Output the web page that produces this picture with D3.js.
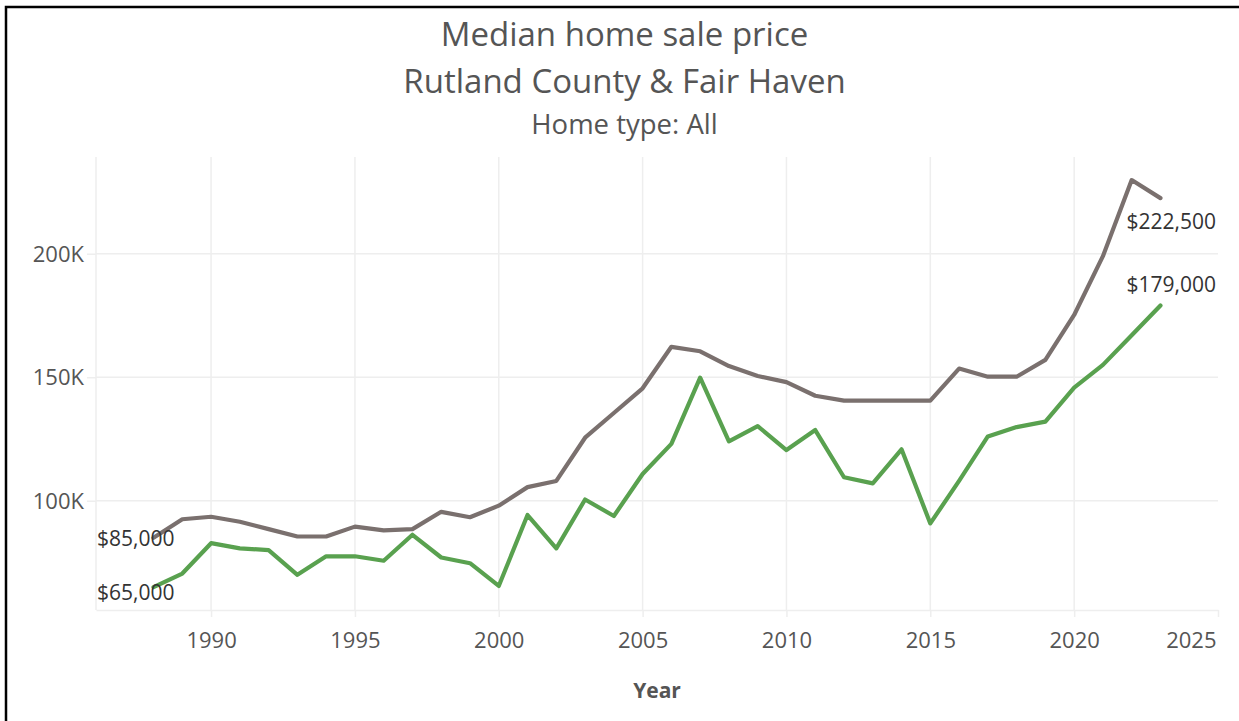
<!DOCTYPE html>
<html>
<head>
<meta charset="utf-8">
<script src="https://cdn.jsdelivr.net/npm/d3@7"></script>
<style>
  body { margin: 0; background: #fff; }
  svg { display: block; font-family: "Open Sans", sans-serif; }
</style>
</head>
<body>
<div id="chart"></div>
<script>
// data (values in dollars)
const years = d3.range(1988, 2024);
const rutland = [85000, 92500, 93500, 91500, 88500, 85500, 85500, 89500, 88000, 88500,
  95500, 93300, 98000, 105500, 108000, 125500, 135500, 145500, 162300, 160500,
  154500, 150500, 148000, 142500, 140500, 140500, 140500, 140500, 153500, 150200,
  150200, 157000, 175200, 199000, 229800, 222500];
const fairHaven = [65000, 70500, 82800, 80700, 80000, 70000, 77500, 77500, 75700, 86200,
  77000, 74700, 65500, 94200, 80700, 100500, 93800, 110800, 123000, 149800,
  124000, 130200, 120500, 128600, 109500, 107000, 120800, 90800, 108000, 126000,
  129800, 132000, 145800, 155000, 167000, 179000];
const xTicks = [1990, 1995, 2000, 2005, 2010, 2015, 2020, 2025];
const yTicks = [100000, 150000, 200000];
const titles = ["Median home sale price", "Rutland County & Fair Haven", "Home type: All"];

const W = 1239, H = 721;
const margin = {top: 157, right: 21, bottom: 111, left: 96};
const width = W - margin.left - margin.right;
const height = H - margin.top - margin.bottom;

const svgRoot = d3.select("#chart").append("svg")
    .attr("width", W)
    .attr("height", H);

// frame
svgRoot.append("path")
    .attr("d", `M6,${H} V7 H${W}`)
    .attr("fill", "none")
    .attr("stroke", "#000")
    .attr("stroke-width", 2.5);

// titles
const titleSizes = [33, 33, 27.5];
const titleY = [46, 93, 134];
titles.forEach((t, i) => {
    svgRoot.append("text")
        .attr("x", 624.5)
        .attr("y", titleY[i])
        .attr("text-anchor", "middle")
        .attr("fill", "#555")
        .style("font-size", titleSizes[i] + "px")
        .text(t);
});

const svg = svgRoot.append("g")
    .attr("transform", `translate(${margin.left},${margin.top})`);

const x = d3.scaleLinear().domain([1986, 2025]).range([0, width]);
const y = d3.scaleLinear().domain([55750, 239150]).range([height, 0]);

const gridColor = "#eeeeee";

// gridlines
svg.selectAll(".vgrid")
    .data([1986].concat(xTicks.filter(d => d < 2025)))
    .enter().append("line")
    .attr("x1", d => x(d)).attr("x2", d => x(d))
    .attr("y1", 0).attr("y2", height)
    .attr("stroke", gridColor)
    .attr("stroke-width", 1.5);

svg.selectAll(".hgrid")
    .data(yTicks)
    .enter().append("line")
    .attr("x1", 0).attr("x2", width)
    .attr("y1", d => y(d)).attr("y2", d => y(d))
    .attr("stroke", gridColor)
    .attr("stroke-width", 1.5);

// x axis
const xAxis = svg.append("g")
    .attr("transform", `translate(0,${height})`)
    .call(d3.axisBottom(x).tickValues(xTicks).tickFormat(d3.format("d")).tickSize(7).tickSizeOuter(0));
xAxis.select(".domain").attr("stroke", gridColor).attr("stroke-width", 1.5);
xAxis.selectAll(".tick line").attr("stroke", gridColor).attr("stroke-width", 1.5);
xAxis.selectAll(".tick text")
    .attr("dy", null)
    .attr("y", 38)
    .attr("fill", "#555")
    .style("font-size", "22px")
    .style("font-family", "Open Sans, sans-serif")
    .attr("text-anchor", d => d === 2025 ? "end" : "middle")
    .attr("dx", d => d === 2025 ? -2 : 0);

// y axis
const yAxis = svg.append("g")
    .call(d3.axisLeft(y).tickValues(yTicks).tickFormat(d => d / 1000 + "K").tickSize(9).tickPadding(3));
yAxis.select(".domain").remove();
yAxis.selectAll(".tick line").attr("stroke", gridColor).attr("stroke-width", 1.5);
yAxis.selectAll(".tick text")
    .attr("dy", "0.34em")
    .attr("fill", "#555")
    .style("font-size", "22px")
    .style("font-family", "Open Sans, sans-serif");

// axis title
svg.append("text")
    .attr("x", width / 2)
    .attr("y", height + 88)
    .attr("text-anchor", "middle")
    .attr("fill", "#555")
    .style("font-size", "21px")
    .style("font-weight", "bold")
    .text("Year");

// lines
const line = d3.line()
    .x((d, i) => x(years[i]))
    .y(d => y(d));

const series = [
    {name: "Rutland County", values: rutland, color: "#7a706e"},
    {name: "Fair Haven", values: fairHaven, color: "#59a14f"}
];

svg.selectAll(".series")
    .data(series)
    .enter().append("path")
    .attr("class", "series")
    .attr("fill", "none")
    .attr("stroke", d => d.color)
    .attr("stroke-width", 4.2)
    .attr("stroke-linejoin", "round")
    .attr("stroke-linecap", "round")
    .attr("d", d => line(d.values));

// start / end labels
const fmt = d3.format("$,");
const last = years.length - 1;
const labels = [
    {v: rutland[0], x: x(years[0]), anchor: "start", px: 1, dy: 8},
    {v: fairHaven[0], x: x(years[0]), anchor: "start", px: 1, dy: 13},
    {v: rutland[last], x: width, anchor: "end", px: -2, dy: 31},
    {v: fairHaven[last], x: width, anchor: "end", px: -2, dy: -14}
];

svg.selectAll(".lbl")
    .data(labels)
    .enter().append("text")
    .attr("class", "lbl")
    .attr("x", (d, i) => i < 2 ? d.px : d.x + d.px)
    .attr("y", d => y(d.v) + d.dy)
    .attr("text-anchor", d => d.anchor)
    .attr("fill", "#333")
    .style("font-size", "21px")
    .text(d => fmt(d.v));
</script>
</body>
</html>
